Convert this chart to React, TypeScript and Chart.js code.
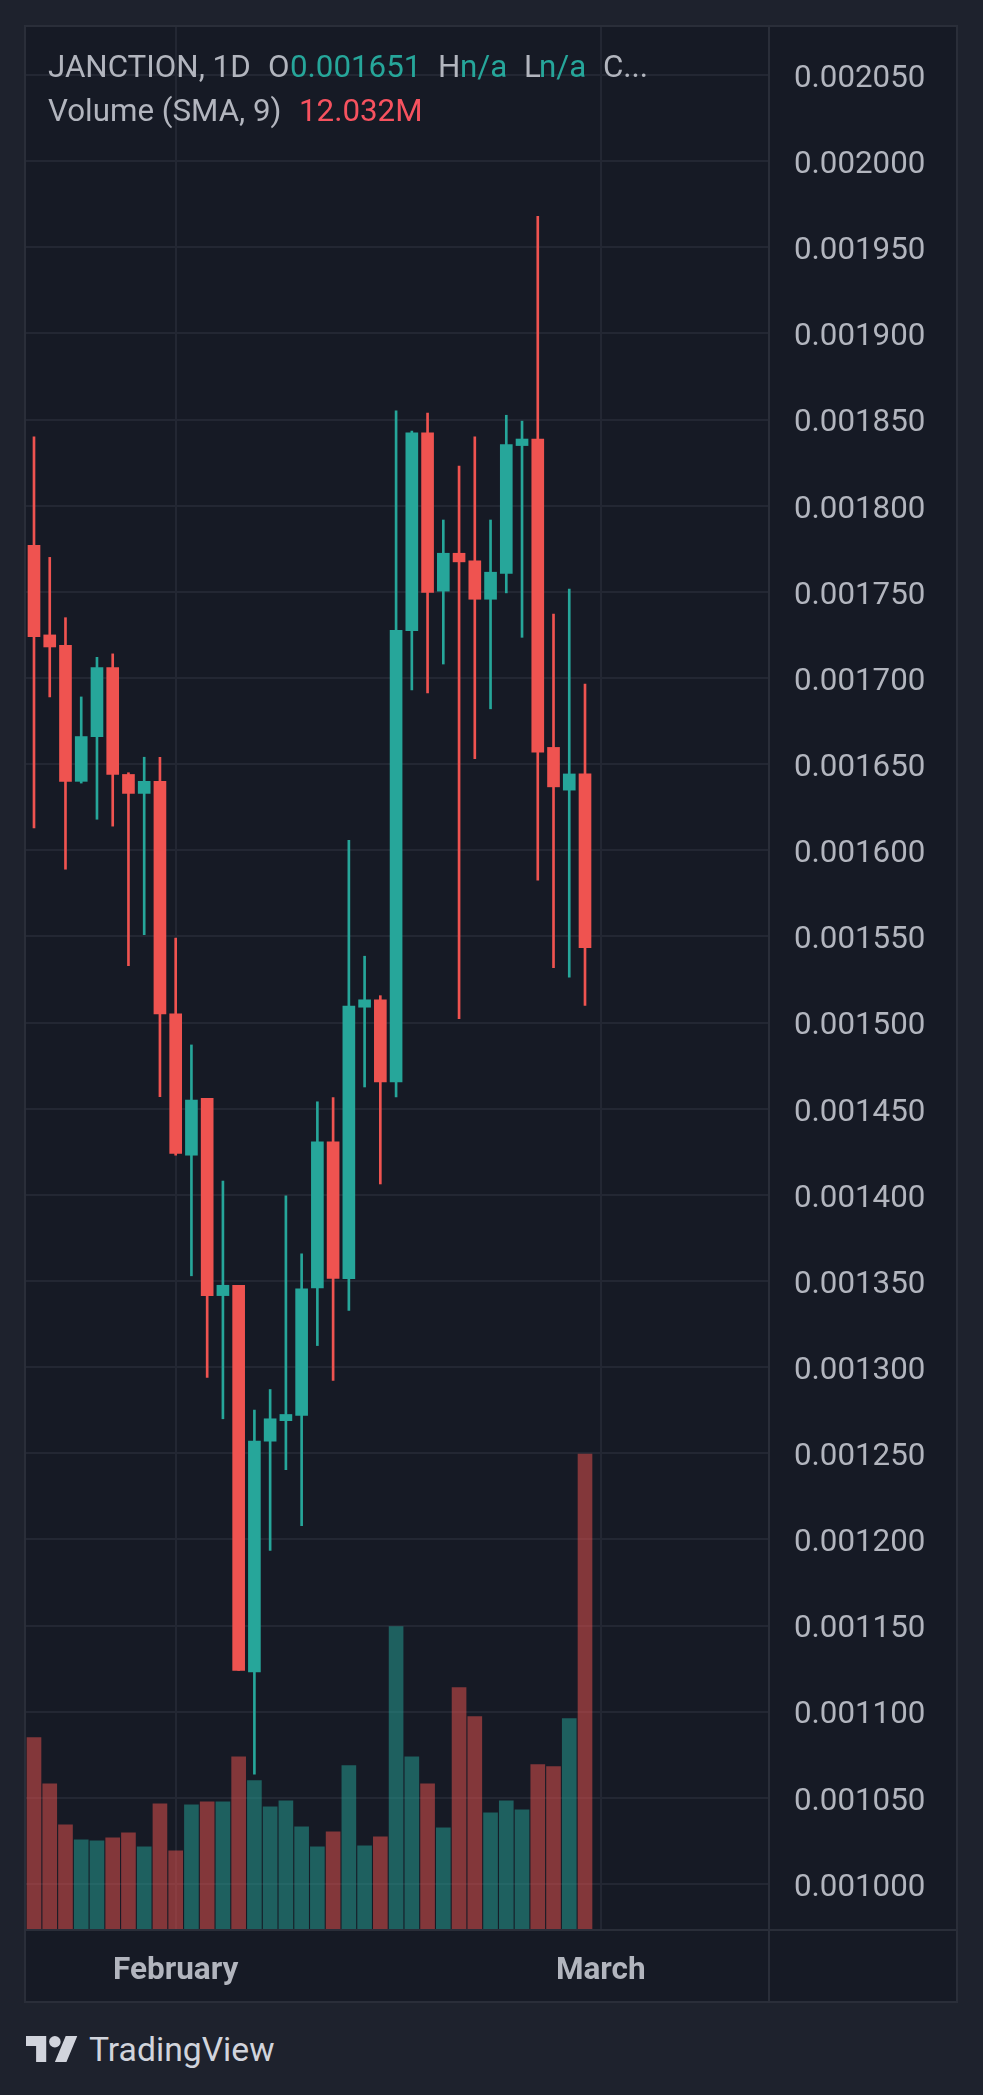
import React, { useEffect, useRef } from "react";
import { Chart, registerables } from "chart.js";

Chart.register(...registerables);

// ---- data ----
const opens = [
  0.001777, 0.001725, 0.001719, 0.00164, 0.001666, 0.001706, 0.001644, 0.001633, 0.00164,
  0.001505, 0.001423, 0.001456, 0.0013415, 0.0013475, 0.001123, 0.001257, 0.0012689, 0.0012719,
  0.001346, 0.0014307, 0.0013513, 0.0015089, 0.0015132, 0.0014656, 0.0017274, 0.0018423, 0.0017504,
  0.0017724, 0.001768, 0.0017457, 0.0017607, 0.0018349, 0.0018387, 0.0016597, 0.0016349, 0.0016443,
];
const highs = [
  0.00184, 0.00177, 0.001735, 0.001689, 0.001712, 0.001714, 0.001645, 0.001654, 0.001654,
  0.001549, 0.001487, 0.001456, 0.001408, 0.0013475, 0.001275, 0.001287, 0.0013994, 0.0013658,
  0.001454, 0.0014564, 0.0016058, 0.0015385, 0.0015156, 0.001855, 0.0018433, 0.0018537, 0.0017917,
  0.001823, 0.00184, 0.0017917, 0.0018525, 0.0018491, 0.0019679, 0.0017371, 0.0017516, 0.0016965,
];
const lows = [
  0.001613, 0.001689, 0.001589, 0.001639, 0.001618, 0.001614, 0.001533, 0.001551, 0.001457,
  0.001423, 0.001353, 0.001294, 0.00127, 0.001124, 0.0010637, 0.0011936, 0.0012405, 0.0012079,
  0.0013125, 0.0012922, 0.0013329, 0.0014626, 0.0014063, 0.0014569, 0.0016931, 0.0016914, 0.0017081,
  0.0015022, 0.0016531, 0.0016821, 0.0017494, 0.0017236, 0.0015827, 0.0015318, 0.0015264, 0.00151,
];
const closes = [
  0.001724, 0.001718, 0.00164, 0.001666, 0.001706, 0.001644, 0.001633, 0.00164, 0.001505,
  0.001424, 0.001455, 0.0013415, 0.0013475, 0.001124, 0.001257, 0.00127, 0.0012725, 0.0013455,
  0.0014307, 0.0013515, 0.0015096, 0.0015132, 0.0014656, 0.0017277, 0.0018423, 0.0017497, 0.0017724,
  0.0017674, 0.0017457, 0.0017614, 0.0018355, 0.0018387, 0.0016569, 0.0016368, 0.0016443, 0.0015434,
];
// volume in millions
const volumes = [
  11.33, 8.6, 6.17, 5.28, 5.22, 5.4, 5.69, 4.86, 7.41,
  4.63, 7.35, 7.53, 7.53, 10.2, 8.78, 7.23, 7.59, 6.05,
  4.86, 5.75, 9.67, 4.92, 5.46, 17.91, 10.2, 8.6, 5.99,
  14.29, 12.57, 6.88, 7.59, 7.06, 9.73, 9.61, 12.45, 28.11,
];
const priceTicks = [
  0.001, 0.00105, 0.0011, 0.00115, 0.0012, 0.00125, 0.0013, 0.00135, 0.0014, 0.00145, 0.0015,
  0.00155, 0.0016, 0.00165, 0.0017, 0.00175, 0.0018, 0.00185, 0.0019, 0.00195, 0.002, 0.00205,
];
const timeTickPositions = [9, 36];
const timeTickLabels = ["February", "March"];

// ---- styling ----
const UP = "#26a69a";
const DOWN = "#ef5350";
const VOL_UP = "rgba(38,166,154,0.5)";
const VOL_DOWN = "rgba(239,83,80,0.5)";
const GRID = "#232733";
const TEXT = "#b2b5be";
const FONT = "Roboto";
const LEG = 31.3;

export default function App() {
  const ref = useRef<HTMLCanvasElement>(null);

  useEffect(() => {
    document.body.style.margin = "0";
    document.body.style.background = "#1e222d";
    const idx = opens.map((_, i) => i);
    const up = idx.map((i) => closes[i] >= opens[i]);
    const chart = new Chart(ref.current as HTMLCanvasElement, {
      type: "bar",
      data: {
        datasets: [
          {
            label: "body",
            data: idx.map((i) => ({ x: i, y: [opens[i], closes[i]] })) as any,
            backgroundColor: up.map((u) => (u ? UP : DOWN)),
            barThickness: 12,
            grouped: false,
            yAxisID: "y",
            order: 0,
          } as any,
          {
            label: "wick",
            data: idx.map((i) => ({ x: i, y: [lows[i], highs[i]] })) as any,
            backgroundColor: up.map((u) => (u ? UP : DOWN)),
            barThickness: 2,
            grouped: false,
            yAxisID: "y",
            order: 1,
          } as any,
          {
            label: "volume",
            data: idx.map((i) => ({ x: i, y: volumes[i] })) as any,
            backgroundColor: up.map((u) => (u ? VOL_UP : VOL_DOWN)),
            barThickness: 14,
            grouped: false,
            yAxisID: "yv",
            order: 2,
          } as any,
        ],
      },
      options: {
        animation: false,
        responsive: false,
        events: [],
        layout: { padding: 0 },
        plugins: {
          legend: { display: false },
          tooltip: { enabled: false },
          title: { display: false },
        },
        scales: {
          x: {
            type: "linear",
            min: -0.508,
            max: 46.624,
            offset: false,
            bounds: "data",
            grid: { color: GRID, lineWidth: 2, drawTicks: false, offset: false },
            border: { display: false },
            ticks: {
              font: { family: FONT, size: 31.5, weight: "bold" },
              color: TEXT,
              padding: 23,
              maxRotation: 0,
              autoSkip: false,
              callback: (v: any) => {
                const k = timeTickPositions.indexOf(Number(v));
                return k >= 0 ? timeTickLabels[k] : "";
              },
            },
            afterBuildTicks: (s: any) => {
              s.ticks = timeTickPositions.map((v) => ({ value: v }));
            },
            afterFit: (s: any) => {
              s.height = 72;
              s.paddingLeft = 0;
              s.paddingRight = 0;
            },
          },
          y: {
            type: "linear",
            position: "right",
            min: 0.00097385,
            max: 0.00207786,
            bounds: "data",
            grid: { color: GRID, lineWidth: 2, drawTicks: false },
            border: { display: false },
            ticks: {
              font: { family: FONT, size: 31.3 },
              color: TEXT,
              padding: 26,
              labelOffset: 4,
              autoSkip: false,
              callback: (v: any) => Number(v).toFixed(6),
            },
            afterBuildTicks: (s: any) => {
              s.ticks = priceTicks.map((v) => ({ value: v }));
            },
            afterFit: (s: any) => {
              s.width = 188;
              s.paddingTop = 0;
              s.paddingBottom = 0;
            },
          },
          yv: {
            type: "linear",
            display: false,
            min: 0,
            max: 112.6,
          },
        } as any,
      },
    });
    return () => chart.destroy();
  }, []);

  const seg = (left: number, top: number, text: string, color: string) => (
    <span
      style={{
        position: "absolute",
        left,
        top,
        fontSize: LEG,
        lineHeight: LEG + "px",
        color,
        whiteSpace: "nowrap",
      }}
    >
      {text}
    </span>
  );

  return (
    <div
      style={{
        position: "relative",
        width: 983,
        height: 2095,
        background: "#1e222d",
        overflow: "hidden",
        fontFamily: FONT,
      }}
    >
      <div
        style={{
          position: "absolute",
          left: 24,
          top: 25,
          width: 930,
          height: 1974,
          border: "2px solid #2a2e39",
          background: "#161a25",
        }}
      >
        <canvas ref={ref} width={930} height={1974} style={{ display: "block" }} />
      </div>
      <div style={{ position: "absolute", left: 768, top: 27, width: 2, height: 1974, background: "#2a2e39" }} />
      <div style={{ position: "absolute", left: 26, top: 1929, width: 930, height: 2, background: "#2a2e39" }} />

      {seg(48, 50.6, "JANCTION, 1D", TEXT)}
      {seg(268, 50.6, "O", TEXT)}
      {seg(290, 50.6, "0.001651", UP)}
      {seg(438, 50.6, "H", TEXT)}
      {seg(460, 50.6, "n/a", UP)}
      {seg(524, 50.6, "L", TEXT)}
      {seg(539, 50.6, "n/a", UP)}
      {seg(603, 50.6, "C...", TEXT)}
      {seg(48, 95.3, "Volume (SMA, 9)", TEXT)}
      {seg(299, 95.3, "12.032M", "#f7525f")}

      <svg
        style={{ position: "absolute", left: 26, top: 2036 }}
        width={52}
        height={26}
        viewBox="0 4 36 18"
        preserveAspectRatio="none"
      >
        <path d="M14 22H7V11H0V4h14v18zM28 22h-8l7.5-18h8L28 22z" fill="#d1d4dc" />
        <circle cx="20" cy="8" r="4" fill="#d1d4dc" />
      </svg>
      <span
        style={{
          position: "absolute",
          left: 89,
          top: 2032.6,
          fontSize: 33.7,
          lineHeight: "33.7px",
          color: "#d1d4dc",
          whiteSpace: "nowrap",
        }}
      >
        TradingView
      </span>
    </div>
  );
}
